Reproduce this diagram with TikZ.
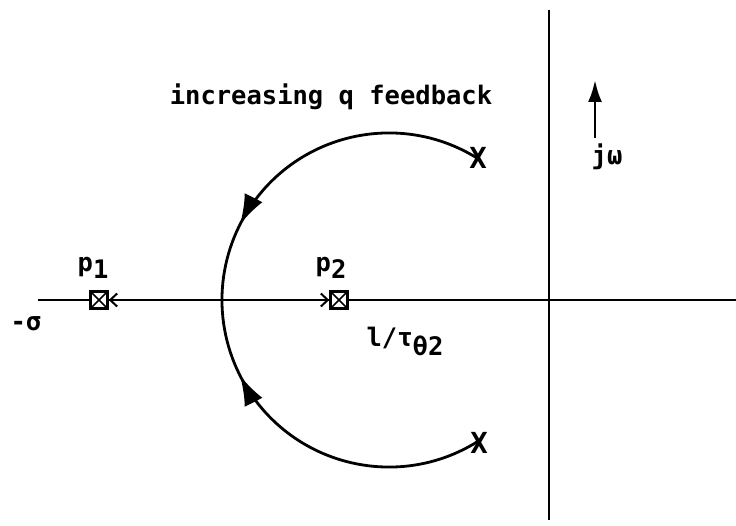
\documentclass[tikz,border=0pt]{standalone}
\usepackage{fontspec}
\setmonofont{DejaVu Sans Mono}
\usetikzlibrary{arrows.meta,decorations.markings}
\begin{document}
\begin{tikzpicture}[x=1pt,y=-1pt,line width=2.8pt,
  font=\ttfamily\bfseries\fontsize{25.5}{28}\selectfont,
  pole/.style={inner sep=0pt,font=\ttfamily\bfseries\fontsize{29}{30}\selectfont},
  zerobox/.style={draw,fill=white,minimum size=17pt,inner sep=0pt,line width=2.4pt,
    path picture={\draw[line width=1.6pt] (path picture bounding box.south west) -- (path picture bounding box.north east)
      (path picture bounding box.north west) -- (path picture bounding box.south east);}},
  lbl/.style={inner sep=0pt},
  midarrow/.style={decoration={markings,mark=at position 0.78 with {\arrow{Latex[length=30pt,width=20pt]}}},postaction={decorate}},
  barb/.style={-{Straight Barb[length=7pt,width=13pt,line width=2pt]},line width=2.4pt}]
\useasboundingbox (0,0) rectangle (736,526);
\coordinate (axL) at (38,300);
\coordinate (axR) at (736,300);
\coordinate (vaT) at (549,10);
\coordinate (vaB) at (549,520);
\draw (axL) -- (axR);
\draw (vaT) -- (vaB);
% root locus arcs
\coordinate (s1) at (477.7,158.5);
\coordinate (s2) at (477.7,441.5);
\draw[midarrow] (s1) arc[start angle=-57.9,end angle=-180,radius=167];
\draw[midarrow] (s2) arc[start angle=57.9,end angle=180,radius=167];
\node[pole] (x1) at (478,158) {X};
\node[pole] (x2) at (479,443) {X};
% zeros / poles on axis
\node[zerobox] (p1) at (99,300) {};
\node[zerobox] (p2) at (339,300) {};
\coordinate (b1) at (122,300);
\coordinate (b2) at (316,300);
\draw[barb] (b1) -- (p1.east);
\draw[barb] (b2) -- (p2.west);
% j omega arrow
\coordinate (jwB) at (595,138);
\coordinate (jwT) at (595,80);
\draw[-{Latex[length=22pt,width=14pt]}] (jwB) -- (jwT);
% labels
\node[lbl] (t1) at (331,97) {increasing q feedback};
\node[lbl] (t2) at (607,157) {jω};
\node[lbl] (t3) at (93,268) {p\raisebox{-0.3em}{1}};
\node[lbl] (t4) at (331,268) {p\raisebox{-0.3em}{2}};
\node[lbl] (t5) at (405,341) {l/τ\raisebox{-0.35em}{θ2}};
\node[lbl] (t6) at (26,324) {-σ};
\end{tikzpicture}
\end{document}
